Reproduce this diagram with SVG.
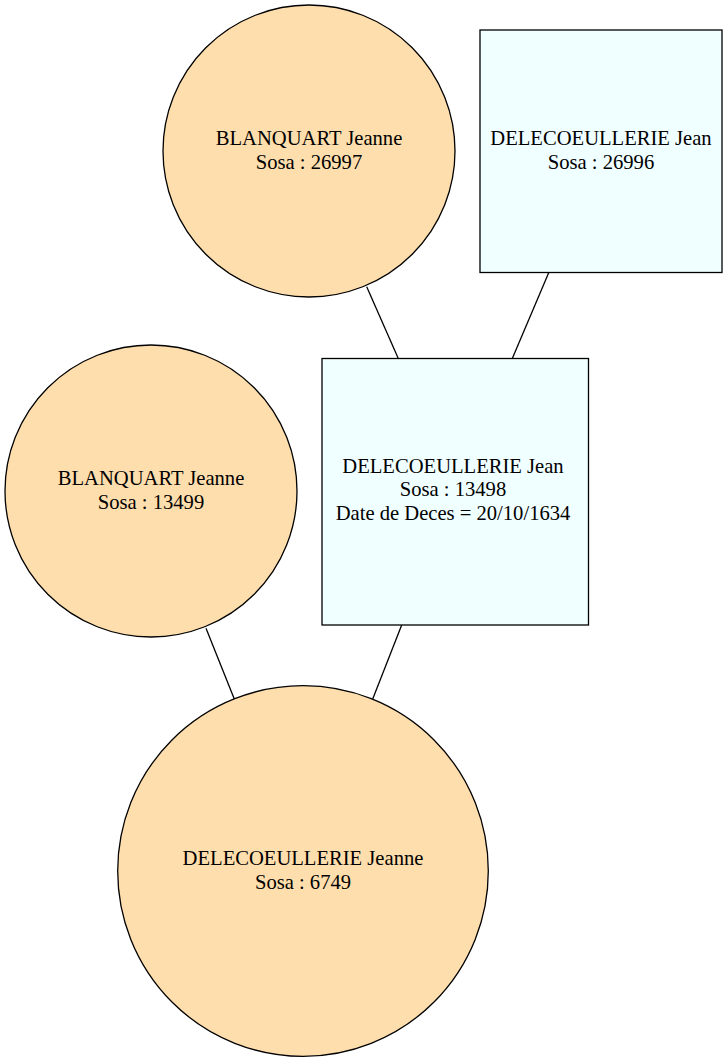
<svg xmlns="http://www.w3.org/2000/svg" width="727" height="1063" viewBox="0 0 727 1063">
<style>
.f{fill:#ffdead;stroke:#000;stroke-width:1.3}
.m{fill:#f0ffff;stroke:#000;stroke-width:1.3}
text{font-family:"Liberation Serif","Times New Roman",serif;font-size:20.6px;text-anchor:middle;fill:#000}
.e line{stroke:#000;stroke-width:1.3}
</style>
<rect width="727" height="1063" fill="#fff"/>
<g class="e" id="connectors">
<line x1="366.7" y1="286.7" x2="398.3" y2="358.5"/>
<line x1="548.7" y1="272.7" x2="512.3" y2="358.5"/>
<line x1="206" y1="628.3" x2="234.3" y2="699"/>
<line x1="401.7" y1="625" x2="372.7" y2="699"/>
</g>
<g id="n26997">
<circle class="f" cx="309" cy="151" r="146"/>
<text x="309" y="145">BLANQUART Jeanne</text>
<text x="309" y="168.5">Sosa : 26997</text>
</g>
<g id="n26996">
<rect class="m" x="480" y="30" width="242" height="242.5"/>
<text x="601" y="145">DELECOEULLERIE Jean</text>
<text x="601" y="168.5">Sosa : 26996</text>
</g>
<g id="n13499">
<circle class="f" cx="151" cy="491" r="146"/>
<text x="151" y="485">BLANQUART Jeanne</text>
<text x="151" y="508.5">Sosa : 13499</text>
</g>
<g id="n13498">
<rect class="m" x="322" y="358.5" width="266.5" height="266.5"/>
<text x="453" y="472.7">DELECOEULLERIE Jean</text>
<text x="453" y="496.2">Sosa : 13498</text>
<text x="453" y="519.7">Date de Deces = 20/10/1634</text>
</g>
<g id="n6749">
<circle class="f" cx="303" cy="871" r="185.3"/>
<text x="303" y="865">DELECOEULLERIE Jeanne</text>
<text x="303" y="888.5">Sosa : 6749</text>
</g>
</svg>
